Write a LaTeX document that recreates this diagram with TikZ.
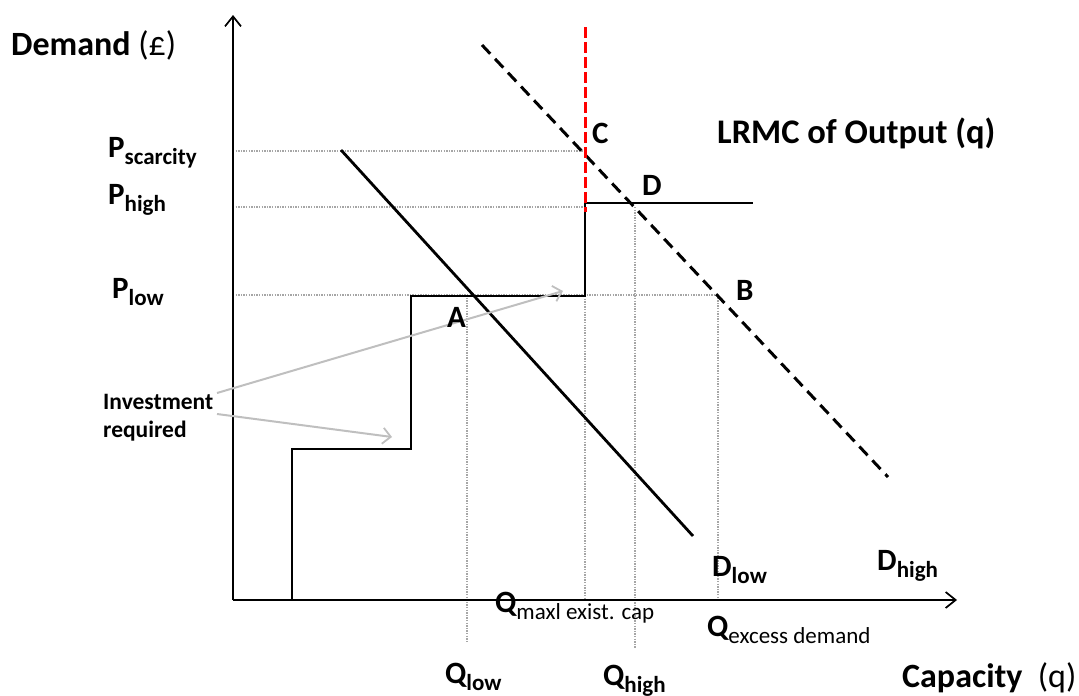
\documentclass[tikz,border=0pt]{standalone}
\usepackage{fontspec}
\setmainfont{Carlito}
\usetikzlibrary{arrows.meta}
\definecolor{dotgray}{HTML}{A6A6A6}
\definecolor{arrgray}{HTML}{BFBFBF}
\definecolor{capred}{HTML}{FF0000}
\newcommand\sbx[2][\bfseries]{\raisebox{-7pt}{\fontsize{23}{23}\selectfont #1#2}}
\begin{document}
\begin{tikzpicture}[x=1pt,y=-1pt,
  axis/.style={line width=2.1pt,-{Straight Barb[length=10pt,width=16pt,line width=1.7pt]}},
  guide/.style={dotgray,line width=1.1pt,dash pattern=on 1.3pt off 1.3pt},
  lowcurve/.style={line width=2.8pt},
  supply/.style={line width=2.4pt},
  highd/.style={line width=3pt,dash pattern=on 12pt off 7pt},
  capline/.style={capred,line width=3pt,dash pattern=on 11pt off 4pt},
  note/.style={arrgray,line width=2pt,-{Straight Barb[length=8pt,width=16pt,line width=1.8pt]}},
  txt/.style={inner sep=0pt,anchor=base west,font=\fontsize{31}{31}\selectfont\bfseries},
  bigtxt/.style={inner sep=0pt,anchor=base west,font=\fontsize{34}{34}\selectfont},
  smalltxt/.style={inner sep=0pt,anchor=base west,font=\fontsize{23.5}{23.5}\selectfont\bfseries}]
\useasboundingbox (0,0) rectangle (1079,696);
% key points
\coordinate (O) at (233,600);
\coordinate (ytop) at (233,15);
\coordinate (xend) at (957,600);
\coordinate (s0) at (292,600);
\coordinate (s1) at (292,449);
\coordinate (s2) at (411,449);
\coordinate (s3) at (411,296);
\coordinate (s4) at (585,296);
\coordinate (s5) at (585,203);
\coordinate (s6) at (753,203);
\coordinate (r0) at (585,27);
\coordinate (r1) at (585,212);
\coordinate (dl0) at (341,150);
\coordinate (dl1) at (693,536);
\coordinate (dh0) at (482,45);
\coordinate (dh1) at (888,477);
\coordinate (ysc) at (233,151);
\coordinate (pC) at (585,151);
\coordinate (yhi) at (233,207);
\coordinate (phi) at (585,207);
\coordinate (pD) at (635,207);
\coordinate (ylo) at (233,295);
\coordinate (pB) at (718,295);
\coordinate (pA) at (467,295);
\coordinate (qlo) at (467,642);
\coordinate (qmx0) at (585,296);
\coordinate (qmx1) at (585,600);
\coordinate (qhi) at (635,648);
\coordinate (qex) at (718,600);
\coordinate (inv1s) at (217,393);
\coordinate (inv1e) at (563,291);
\coordinate (inv2s) at (217,414);
\coordinate (inv2e) at (392,437);
% guides
\draw[guide] (ysc) -- (pC);
\draw[guide] (yhi) -- (phi);
\draw[guide] (ylo) -- (pB);
\draw[guide] (pA) -- (qlo);
\draw[guide] (qmx0) -- (qmx1);
\draw[guide] (pD) -- (qhi);
\draw[guide] (pB) -- (qex);
% axes
\draw[axis] (O) -- (ytop);
\draw[axis] (O) -- (xend);
% supply steps
\draw[supply] (s0) -- (s1) -- (s2) -- (s3) -- (s4) -- (s5) -- (s6);
% demand curves
\draw[lowcurve] (dl0) -- (dl1);
\draw[highd] (dh0) -- (dh1);
% annotation arrows
\draw[note] (inv1s) -- (inv1e);
\draw[note] (inv2s) -- (inv2e);
% capacity limit
\draw[capline] (r0) -- (r1);
% labels
\node[bigtxt] (ylab) at (11,55) {\textbf{Demand} (£)};
\node[bigtxt] (xlab) at (902,687) {\textbf{Capacity}\ \ (q)};
\node[txt,font=\fontsize{34.5}{34.5}\selectfont\bfseries] (lrmc) at (717,143) {LRMC of Output (q)};
\node[txt] (Psc) at (108,157) {P\sbx{scarcity}};
\node[txt] (Phi) at (108,204) {P\sbx{high}};
\node[txt] (Plo) at (112,298) {P\sbx{low}};
\node[txt] (lC) at (592,143) {C};
\node[txt] (lD) at (642,195) {D};
\node[txt] (lB) at (736,300) {B};
\node[txt] (lA) at (447,327) {A};
\node[smalltxt] (inv) at (103,409) {Investment};
\node[smalltxt] (req) at (103,437) {required};
\node[txt] (Dlo) at (712,576) {D\sbx{low}};
\node[txt] (Dhi) at (877,570) {D\sbx{high}};
\node[txt] (Qmx) at (495,612) {Q\sbx[\mdseries]{maxl exist. cap}};
\node[txt] (Qex) at (707,636) {Q\sbx[\mdseries]{excess demand}};
\node[txt] (Qlo) at (445,683) {Q\sbx{low}};
\node[txt] (Qhi) at (603,685) {Q\sbx{high}};
\end{tikzpicture}
\end{document}
